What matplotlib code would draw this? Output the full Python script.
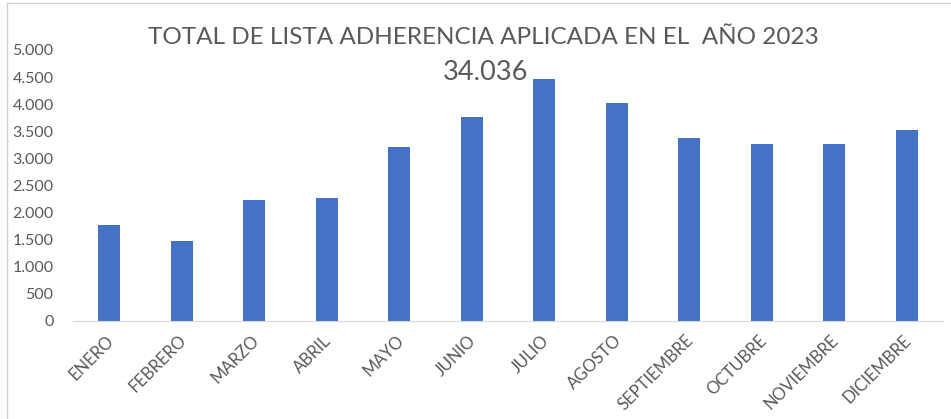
import matplotlib
matplotlib.use("Agg")
import matplotlib.pyplot as plt
import matplotlib.transforms as mtransforms
from matplotlib.ticker import FuncFormatter
from matplotlib.lines import Line2D

meses = ["ENERO", "FEBRERO", "MARZO", "ABRIL", "MAYO", "JUNIO", "JULIO",
         "AGOSTO", "SEPTIEMBRE", "OCTUBRE", "NOVIEMBRE", "DICIEMBRE"]
valores = [1770, 1475, 2225, 2265, 3205, 3760, 4470, 4015, 3375, 3260, 3260, 3520]
total_label = "34.036"
titulo = "TOTAL DE LISTA ADHERENCIA APLICADA EN EL  AÑO 2023"

gris = "#595959"
azul = "#4472C4"
plt.rcParams["font.family"] = ["Lato", "DejaVu Sans"]

fig = plt.figure(figsize=(9.51, 4.19), dpi=100)
ax = fig.add_axes([0.0768, 0.234, 0.9148, 0.6467])

x = list(range(len(meses)))
ax.bar(x, valores, width=0.3, color=azul, zorder=2)
ax.set_xlim(-0.5, len(meses) - 0.5)
ax.set_ylim(0, 5000)
ax.set_yticks(range(0, 5001, 500))
ax.yaxis.set_major_formatter(FuncFormatter(lambda v, _: f"{int(v):,}".replace(",", ".")))

for s in ["top", "right", "left"]:
    ax.spines[s].set_visible(False)
ax.spines["bottom"].set_color("#d9d9d9")
ax.tick_params(axis="both", length=0, colors=gris)
ax.tick_params(axis="y", pad=14, labelsize=11.5)
ax.tick_params(axis="x", labelsize=12)

ax.set_xticks(x)
ax.set_xticklabels(meses, rotation=45, ha="right", va="center", rotation_mode="anchor")
offset = mtransforms.ScaledTranslation(0.02, -0.12, fig.dpi_scale_trans)
for lbl in ax.get_xticklabels():
    lbl.set_transform(lbl.get_transform() + offset)

fig.text(0.508, 0.91, titulo, ha="center", va="center", fontsize=17.5, color=gris)
fig.text(0.51, 0.826, total_label, ha="center", va="center", fontsize=19.5, color=gris)

# thin frame lines at the top and left edges
fig.add_artist(Line2D([0.007, 1.0], [0.993, 0.993], color="#d0d0d0", lw=1, transform=fig.transFigure))
fig.add_artist(Line2D([0.007, 0.007], [0.0, 0.993], color="#d0d0d0", lw=1, transform=fig.transFigure))

fig.savefig("out.png", dpi=100)
